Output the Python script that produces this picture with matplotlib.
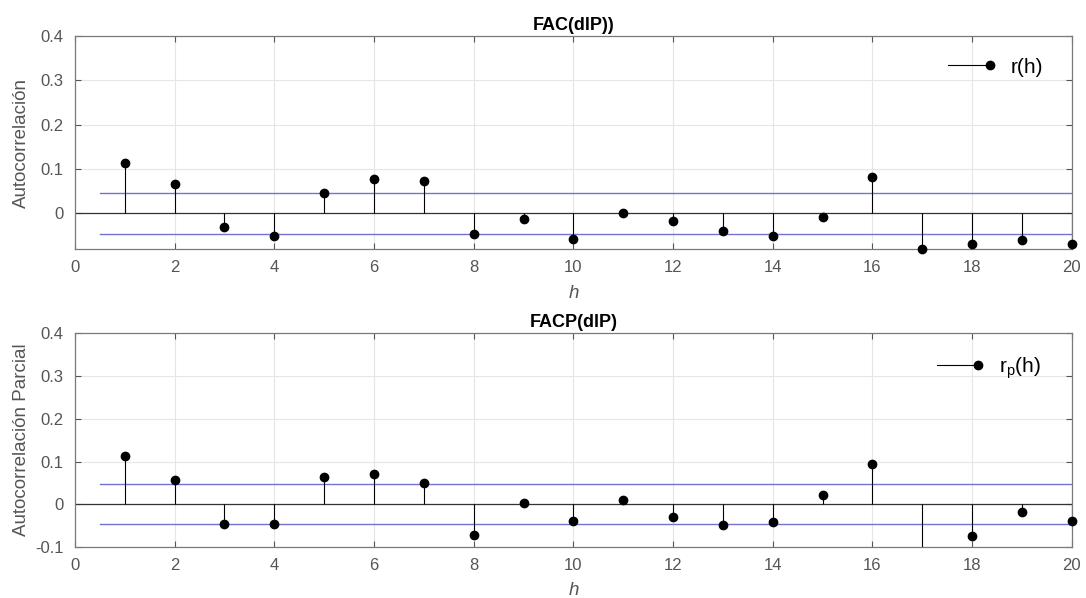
import matplotlib
matplotlib.use('Agg')
import matplotlib.pyplot as plt
import numpy as np
from matplotlib.lines import Line2D
from matplotlib.legend_handler import HandlerBase

plt.rcParams['font.family'] = ['Liberation Sans', 'DejaVu Sans']

# Retardos y coeficientes estimados
lags = np.arange(1, 21)
fac = [0.113, 0.067, -0.031, -0.051, 0.047, 0.077, 0.074, -0.046, -0.013, -0.057,
       0.001, -0.017, -0.040, -0.052, -0.008, 0.082, -0.081, -0.070, -0.060, -0.068]
facp = [0.113, 0.056, -0.045, -0.046, 0.065, 0.072, 0.049, -0.071, 0.002, -0.040,
        0.009, -0.029, -0.049, -0.042, 0.022, 0.094, -0.115, -0.075, -0.017, -0.039]
banda = 0.047          # 2/sqrt(N)
banda_x = [0.5, 20]

gris = '#555555'
azul = '#7373d6'


class StemHandler(HandlerBase):
    """Linea horizontal con el marcador al final, como en MATLAB"""
    def create_artists(self, legend, orig_handle, xdescent, ydescent,
                       width, height, fontsize, trans):
        y = height / 2 - ydescent
        linea = Line2D([-xdescent, width - xdescent], [y, y], color='k', lw=0.8)
        punto = Line2D([width - xdescent], [y], marker='o', color='k', ms=6)
        linea.set_transform(trans)
        punto.set_transform(trans)
        return [linea, punto]


def panel(ax, valores, titulo, ylabel, etiqueta, ylim, leg_pos):
    valores = np.asarray(valores)
    ax.vlines(lags, 0, valores, color='k', lw=0.8, zorder=3)
    # los marcadores dentro de los limites se dibujan completos
    dentro = (valores >= ylim[0] - 1e-9) & (valores <= ylim[1])
    ax.plot(lags[dentro], valores[dentro], 'o', color='k', ms=6, zorder=4,
            clip_on=False)
    ax.axhline(0, color='#333333', lw=0.9, zorder=2)
    ax.plot(banda_x, [banda, banda], color=azul, lw=1.0, zorder=2)
    ax.plot(banda_x, [-banda, -banda], color=azul, lw=1.0, zorder=2)

    ax.set_xlim(0, 20)
    ax.set_ylim(*ylim)
    ax.set_xticks(np.arange(0, 21, 2))
    ax.set_yticks([t for t in [-0.1, 0, 0.1, 0.2, 0.3, 0.4] if t >= ylim[0] - 1e-9])
    ax.yaxis.set_major_formatter(plt.FuncFormatter(lambda v, p: f'{v:g}'))
    ax.grid(True, color='#e6e6e6', lw=0.8, zorder=0)
    ax.set_axisbelow(True)
    ax.tick_params(direction='in', top=True, right=True, length=4,
                   colors=gris, labelsize=12, width=0.8, pad=8)
    for s in ax.spines.values():
        s.set_color('#7a7a7a')
        s.set_linewidth(0.9)

    ax.set_title(titulo, fontsize=13, fontweight='bold', pad=4.5)
    ax.set_xlabel('h', fontsize=13.5, style='italic', color=gris)
    ax.set_ylabel(ylabel, fontsize=13.5, color=gris)
    ax.xaxis.set_label_coords(0.5, -0.165)
    ax.yaxis.set_label_coords(-0.045, 0.5)

    h = Line2D([], [], color='k')
    ax.legend([h], [etiqueta], handler_map={Line2D: StemHandler()},
              loc='center right', frameon=False, fontsize=15,
              handlelength=2.0, handletextpad=1.0,
              bbox_to_anchor=leg_pos)


fig = plt.figure(figsize=(10.86, 5.98), dpi=100)
ax1 = fig.add_axes([0.069, 0.583, 0.918, 0.357])
ax2 = fig.add_axes([0.069, 0.085, 0.918, 0.358])

panel(ax1, fac, 'FAC(dlP))', 'Autocorrelación', 'r(h)', (-0.081, 0.4),
      (0.99, 0.854))
panel(ax2, facp, 'FACP(dlP)', 'Autocorrelación Parcial',
      r'r$_\mathregular{p}$(h)', (-0.1, 0.4), (0.988, 0.836))

fig.savefig('out.png', dpi=100)
